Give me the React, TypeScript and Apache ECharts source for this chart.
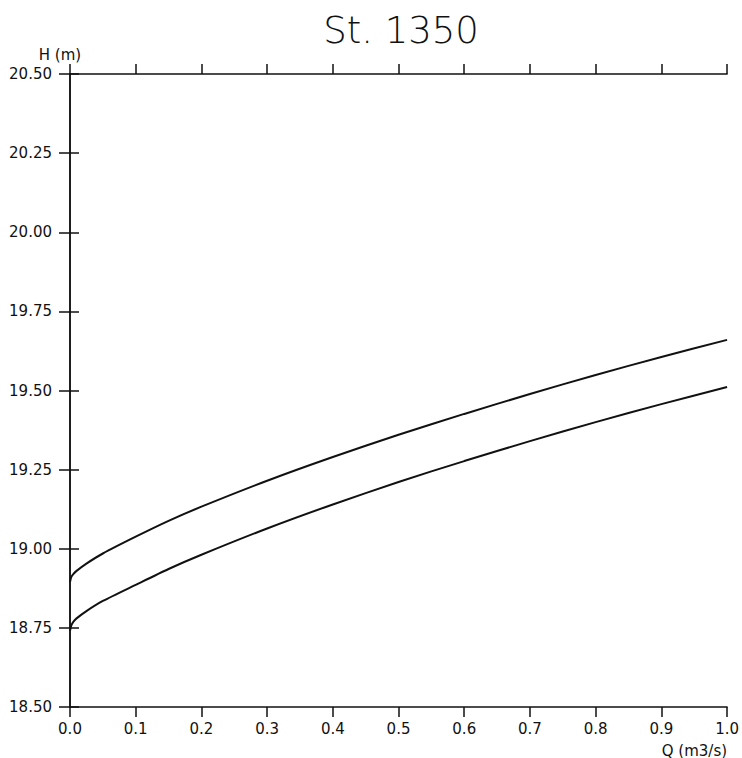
import React, { useEffect, useRef } from "react";
import * as echarts from "echarts";

const titleText = "St. 1350";
const xName = "Q (m3/s)";
const yName = "H (m)";
const discharge = [0, 0.002, 0.005, 0.01, 0.025, 0.05, 0.1, 0.15, 0.2, 0.3, 0.4, 0.5, 0.6, 0.7, 0.8, 0.9, 1.0];
const upperH = [18.895, 18.911, 18.92, 18.93, 18.953, 18.985, 19.038, 19.088, 19.133, 19.215, 19.29, 19.36, 19.426, 19.489, 19.549, 19.606, 19.66];
const lowerH = [18.741, 18.758, 18.769, 18.78, 18.803, 18.835, 18.886, 18.936, 18.981, 19.064, 19.14, 19.211, 19.277, 19.34, 19.4, 19.457, 19.511];

const FONT = "DejaVu Sans";

export default function App() {
  const ref = useRef<HTMLDivElement>(null);
  useEffect(() => {
    document.body.style.margin = "0";
    const chart = echarts.init(ref.current!, null, { renderer: "svg" });
    const axisLine = { show: true, lineStyle: { color: "#111", width: 1.5 } };
    const tickStyle = { color: "#111", width: 1.5 };
    chart.setOption({
      animation: false,
      backgroundColor: "#fff",
      title: {
        text: titleText,
        left: 396,
        top: 7,
        textAlign: "center",
        textStyle: { fontFamily: FONT, fontSize: 37, fontWeight: 200, color: "#111" },
      },
      grid: { left: 70, right: 12.5, top: 74, bottom: 50, containLabel: false },
      xAxis: [
        {
          type: "value",
          min: 0,
          max: 1,
          interval: 0.1,
          position: "bottom",
          axisLine,
          axisTick: { show: true, inside: false, length: 10, lineStyle: tickStyle },
          axisLabel: {
            show: true,
            margin: 14,
            fontFamily: FONT,
            fontSize: 15,
            color: "#111",
            formatter: (v: number) => v.toFixed(1),
          },
          splitLine: { show: false },
          name: xName,
          nameLocation: "end",
          nameGap: 0,
          nameTextStyle: {
            fontFamily: FONT,
            fontSize: 15,
            color: "#111",
            align: "right",
            verticalAlign: "top",
            padding: [36, 0, 0, 0],
          },
        },
        {
          type: "value",
          min: 0,
          max: 1,
          interval: 0.1,
          position: "top",
          axisLine,
          axisTick: { show: true, inside: false, length: 10, lineStyle: tickStyle },
          axisLabel: { show: false },
          splitLine: { show: false },
        },
      ],
      yAxis: [
        {
          type: "value",
          min: 18.5,
          max: 20.5,
          interval: 0.25,
          position: "left",
          axisLine,
          axisTick: { show: true, inside: false, length: 11, lineStyle: tickStyle },
          axisLabel: {
            show: true,
            margin: 18,
            fontFamily: FONT,
            fontSize: 15,
            color: "#111",
            formatter: (v: number) => v.toFixed(2),
          },
          splitLine: { show: false },
          name: yName,
          nameLocation: "end",
          nameGap: 12,
          nameTextStyle: {
            fontFamily: FONT,
            fontSize: 15,
            color: "#111",
            align: "center",
            padding: [0, 20, 0, 0],
          },
        },
        {
          type: "value",
          min: 18.5,
          max: 20.5,
          interval: 0.25,
          position: "right",
          axisLine,
          axisTick: { show: true, inside: false, length: 9, lineStyle: tickStyle },
          axisLabel: { show: false },
          splitLine: { show: false },
        },
      ],
      series: [
        {
          type: "line",
          name: "upper",
          xAxisIndex: 0,
          yAxisIndex: 0,
          data: discharge.map((q, i) => [q, upperH[i]]),
          showSymbol: false,
          smooth: 0.25,
          lineStyle: { color: "#111", width: 2 },
        },
        {
          type: "line",
          name: "lower",
          xAxisIndex: 0,
          yAxisIndex: 0,
          data: discharge.map((q, i) => [q, lowerH[i]]),
          showSymbol: false,
          smooth: 0.25,
          lineStyle: { color: "#111", width: 2 },
        },
      ],
    });
    return () => chart.dispose();
  }, []);
  return <div ref={ref} style={{ width: 742, height: 758 }} />;
}
